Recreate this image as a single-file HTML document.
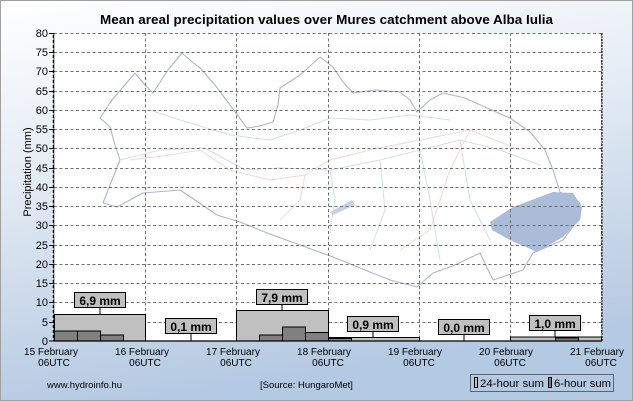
<!DOCTYPE html>
<html><head><meta charset="utf-8"><style>
html,body{margin:0;padding:0;width:633px;height:401px;overflow:hidden;}
svg{display:block;font-family:"Liberation Sans",Arial,sans-serif;}
</style></head><body>
<svg width="633" height="401" viewBox="0 0 633 401" xmlns="http://www.w3.org/2000/svg">
<defs>
<linearGradient id="bg" x1="0" y1="0" x2="0.25" y2="1">
<stop offset="0" stop-color="#ffffff"/><stop offset="0.45" stop-color="#e2eaf4"/><stop offset="1" stop-color="#b4c9e2"/>
</linearGradient>
</defs>
<rect x="0.5" y="0.5" width="632" height="400" fill="url(#bg)" stroke="#a0a0a0"/>
<rect x="54" y="33" width="548" height="308" fill="#ffffff"/>
<text x="100" y="24" font-size="12.5" font-weight="bold" fill="#000" textLength="453" lengthAdjust="spacingAndGlyphs">Mean areal precipitation values over Mures catchment above Alba Iulia</text>
<!-- map -->
<g fill="none" stroke-linejoin="round">
<path d="M100,118 L112,100 L135,73 L145,85 L153,93 L168,70 L182,53 L190,60 L200,68 L215,85 L230,105 L247,128 L260,126 L273,122 L278,105 L280,88 L300,75 L320,57 L333,67 L343,82 L353,93 L375,90 L400,92 L410,100 L417,112 L430,100 L443,93 L465,98 L487,108 L510,118 L530,132 L545,150 L553,170 L560,192 L580,203 L580,217 L563,240 L533,253 L523,270 L493,280 L480,253 L455,265 L433,273 L417,287 L390,280 L360,268 L333,257 L300,245 L267,233 L240,222 L217,215 L195,200 L180,190 L143,193 L117,207 L103,203 L110,185 L120,160 L115,145 L110,127 Z" stroke="#b0b4cc" stroke-width="1.1"/>
<path d="M120,160 L160,150 L205,148 L245,170 L280,168 L330,170 L380,160 L420,150 L460,140 L500,150 L540,165" stroke="#d4e0e4"/>
<path d="M150,110 L180,120 L230,135 L270,140 L300,130 L330,118 L370,120 L410,115 L450,120" stroke="#d4e0e4"/>
<path d="M330,170 L335,200 L330,230 M380,160 L385,210 L370,250 M420,150 L430,200 L440,260 M460,140 L470,200 L490,240" stroke="#d4e0e4"/>
<path d="M130,160 L170,155 L200,150 L230,170 L270,180 L305,175 L330,160 L370,150 L420,140 L470,130 L520,150 M305,175 L300,200 L280,220 M470,130 L450,170 L430,230 L400,250" stroke="#f4d8d8"/>
</g>
<path d="M490,222 L513,207 L553,192 L573,193 L582,207 L580,220 L563,237 L537,252 L510,240 L492,230 Z" fill="#aabcd8"/>
<path d="M330,212 L352,200 L355,205 L333,215 Z" fill="#c4d2e2"/>
<!-- grid -->
<g stroke="#707070" stroke-dasharray="3,2.5" stroke-width="1">
<line x1="54" y1="33.5" x2="602" y2="33.5"/>
<line x1="54" y1="52.5" x2="602" y2="52.5"/><line x1="54" y1="71.5" x2="602" y2="71.5"/>
<line x1="54" y1="91.5" x2="602" y2="91.5"/><line x1="54" y1="110.5" x2="602" y2="110.5"/>
<line x1="54" y1="129.5" x2="602" y2="129.5"/><line x1="54" y1="148.5" x2="602" y2="148.5"/>
<line x1="54" y1="168.5" x2="602" y2="168.5"/><line x1="54" y1="187.5" x2="602" y2="187.5"/>
<line x1="54" y1="206.5" x2="602" y2="206.5"/><line x1="54" y1="225.5" x2="602" y2="225.5"/>
<line x1="54" y1="245.5" x2="602" y2="245.5"/><line x1="54" y1="264.5" x2="602" y2="264.5"/>
<line x1="54" y1="283.5" x2="602" y2="283.5"/><line x1="54" y1="302.5" x2="602" y2="302.5"/>
<line x1="54" y1="322.5" x2="602" y2="322.5"/>
<line x1="145.5" y1="33" x2="145.5" y2="341"/><line x1="236.5" y1="33" x2="236.5" y2="341"/>
<line x1="328.5" y1="33" x2="328.5" y2="341"/><line x1="419.5" y1="33" x2="419.5" y2="341"/>
<line x1="510.5" y1="33" x2="510.5" y2="341"/><line x1="601.5" y1="33" x2="601.5" y2="341"/>
</g>
<!-- bars -->
<g stroke="#000" stroke-width="1">
<rect x="54.5" y="314.5" width="91" height="26.5" fill="#c0c0c0"/>
<rect x="236.5" y="310.5" width="92" height="30.5" fill="#c0c0c0"/>
<rect x="328.5" y="337.5" width="91" height="3.5" fill="#c0c0c0"/>
<rect x="510.5" y="337" width="91" height="4" fill="#c0c0c0"/>
<rect x="54.5" y="331" width="23" height="10" fill="#808080"/>
<rect x="77.5" y="331" width="23" height="10" fill="#808080"/>
<rect x="100.5" y="335" width="23" height="6" fill="#808080"/>
<rect x="259.5" y="335" width="23" height="6" fill="#808080"/>
<rect x="282.5" y="327" width="23" height="14" fill="#808080"/>
<rect x="305.5" y="332.5" width="23" height="8.5" fill="#808080"/>
<rect x="328.5" y="338.5" width="23" height="2.5" fill="#808080"/>
<rect x="555.5" y="338" width="23" height="3" fill="#808080"/>
</g>
<line x1="54" y1="341" x2="602" y2="341" stroke="#000" stroke-width="1.2"/>
<!-- labels -->
<g stroke="#000" stroke-width="1">
<line x1="100" y1="307" x2="100" y2="314"/><line x1="191" y1="333" x2="191" y2="341"/>
<line x1="282" y1="304" x2="282" y2="310"/><line x1="373" y1="331" x2="373" y2="337"/>
<line x1="464" y1="334" x2="464" y2="341"/><line x1="555" y1="330" x2="555" y2="337"/>
<rect x="74.5" y="292.5" width="51" height="15" fill="#c0c0c0"/>
<rect x="165.5" y="318.5" width="51" height="15" fill="#c0c0c0"/>
<rect x="256.5" y="289.5" width="51" height="15" fill="#c0c0c0"/>
<rect x="347.5" y="316.5" width="51" height="15" fill="#c0c0c0"/>
<rect x="438.5" y="319.5" width="51" height="15" fill="#c0c0c0"/>
<rect x="529.5" y="315.5" width="51" height="15" fill="#c0c0c0"/>
</g>
<g font-size="12" font-weight="bold" text-anchor="middle" fill="#000">
<text x="100" y="305">6,9 mm</text><text x="191" y="331">0,1 mm</text>
<text x="282" y="302">7,9 mm</text><text x="373" y="329">0,9 mm</text>
<text x="464" y="332">0,0 mm</text><text x="555" y="328">1,0 mm</text>
</g>
<!-- axes -->
<line x1="53.5" y1="33" x2="53.5" y2="341" stroke="#000" stroke-width="1.5"/>
<line x1="53" y1="33" x2="53" y2="341" stroke="#fff" stroke-width="1" stroke-dasharray="2,3"/>
<line x1="602" y1="33" x2="602" y2="341" stroke="#000" stroke-width="1" stroke-dasharray="2,1"/>
<g stroke="#000"><line x1="49" y1="33.5" x2="54" y2="33.5"/><line x1="49" y1="52.5" x2="54" y2="52.5"/><line x1="49" y1="71.5" x2="54" y2="71.5"/><line x1="49" y1="91.5" x2="54" y2="91.5"/><line x1="49" y1="110.5" x2="54" y2="110.5"/><line x1="49" y1="129.5" x2="54" y2="129.5"/><line x1="49" y1="148.5" x2="54" y2="148.5"/><line x1="49" y1="168.5" x2="54" y2="168.5"/><line x1="49" y1="187.5" x2="54" y2="187.5"/><line x1="49" y1="206.5" x2="54" y2="206.5"/><line x1="49" y1="225.5" x2="54" y2="225.5"/><line x1="49" y1="245.5" x2="54" y2="245.5"/><line x1="49" y1="264.5" x2="54" y2="264.5"/><line x1="49" y1="283.5" x2="54" y2="283.5"/><line x1="49" y1="302.5" x2="54" y2="302.5"/><line x1="49" y1="322.5" x2="54" y2="322.5"/><line x1="49" y1="341" x2="54" y2="341"/></g>
<g font-size="11" text-anchor="end" fill="#000">
<text x="48" y="37">80</text><text x="48" y="56">75</text><text x="48" y="75">70</text><text x="48" y="95">65</text><text x="48" y="114">60</text><text x="48" y="133">55</text><text x="48" y="152">50</text><text x="48" y="172">45</text><text x="48" y="191">40</text><text x="48" y="210">35</text><text x="48" y="229">30</text><text x="48" y="249">25</text><text x="48" y="268">20</text><text x="48" y="287">15</text><text x="48" y="306">10</text><text x="48" y="326">5</text><text x="48" y="345">0</text>
</g>
<text transform="translate(31,172) rotate(-90)" font-size="11" text-anchor="middle">Precipitation (mm)</text>
<g font-size="10" text-anchor="middle" fill="#000">
<text x="51" y="355">15 February</text><text x="54" y="366">06UTC</text>
<text x="142" y="355">16 February</text><text x="145" y="366">06UTC</text>
<text x="233" y="355">17 February</text><text x="236" y="366">06UTC</text>
<text x="324" y="355">18 February</text><text x="328" y="366">06UTC</text>
<text x="415" y="355">19 February</text><text x="419" y="366">06UTC</text>
<text x="506" y="355">20 February</text><text x="510" y="366">06UTC</text>
<text x="597" y="355">21 February</text><text x="601" y="366">06UTC</text>
</g>
<text x="47" y="388" font-size="9.5">www.hydroinfo.hu</text>
<text x="260" y="388" font-size="9.5">[Source: HungaroMet]</text>
<rect x="470.5" y="374.5" width="143" height="17" fill="none" stroke="#000" stroke-dasharray="1,1"/>
<rect x="474.5" y="377.5" width="3" height="10" fill="#c0c0c0" stroke="#000"/>
<text x="480" y="387" font-size="11" textLength="64" lengthAdjust="spacingAndGlyphs">24-hour sum</text>
<rect x="548.5" y="377.5" width="3" height="10" fill="#808080" stroke="#000"/>
<text x="554" y="387" font-size="11" textLength="57" lengthAdjust="spacingAndGlyphs">6-hour sum</text>
</svg>
</body></html>
